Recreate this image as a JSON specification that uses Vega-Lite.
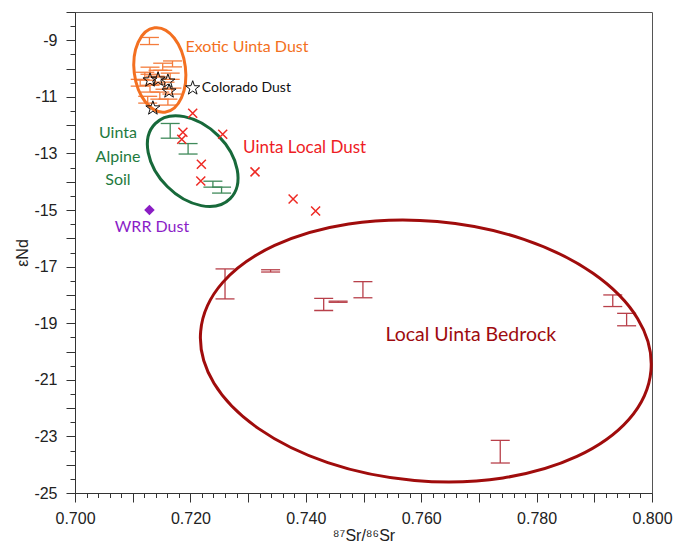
{
  "$schema": "https://vega.github.io/schema/vega-lite/v6.json",
  "width": 577,
  "height": 481,
  "autosize": {"type": "none"},
  "padding": {"left": 75, "top": 12, "right": 21, "bottom": 52},
  "background": "white",
  "config": {
    "view": {"stroke": "#555555", "strokeWidth": 1},
    "axis": {
      "grid": false,
      "domainColor": "#333333",
      "tickColor": "#333333",
      "labelFont": "Liberation Sans",
      "labelFontSize": 16,
      "labelColor": "#222222",
      "titleFont": "Liberation Sans",
      "titleFontSize": 16,
      "titleFontWeight": "normal",
      "titleColor": "#222222"
    }
  },
  "datasets": {
    "bars": [
      {"g": "exotic", "x": 0.7129, "y": -8.90, "y2": -9.15},
      {"g": "exotic", "x": 0.7169, "y": -9.73, "y2": -9.94},
      {"g": "exotic", "x": 0.7152, "y": -9.81, "y2": -10.06},
      {"g": "exotic", "x": 0.7130, "y": -9.95, "y2": -10.20},
      {"g": "exotic", "x": 0.7144, "y": -10.06, "y2": -10.30},
      {"g": "exotic", "x": 0.7121, "y": -10.13, "y2": -10.41},
      {"g": "exotic", "x": 0.7165, "y": -10.16, "y2": -10.38},
      {"g": "exotic", "x": 0.7139, "y": -10.27, "y2": -10.55},
      {"g": "exotic", "x": 0.7113, "y": -10.38, "y2": -10.62},
      {"g": "exotic", "x": 0.7156, "y": -10.48, "y2": -10.73},
      {"g": "exotic", "x": 0.7130, "y": -10.59, "y2": -10.83},
      {"g": "exotic", "x": 0.7168, "y": -10.69, "y2": -10.90},
      {"g": "exotic", "x": 0.7147, "y": -10.83, "y2": -11.08},
      {"g": "exotic", "x": 0.7126, "y": -10.98, "y2": -11.22},
      {"g": "exotic", "x": 0.7161, "y": -11.08, "y2": -11.29},
      {"g": "soil", "x": 0.7165, "y": -11.94, "y2": -12.46},
      {"g": "soil", "x": 0.7196, "y": -12.65, "y2": -13.02},
      {"g": "soil", "x": 0.7239, "y": -13.98, "y2": -14.19},
      {"g": "soil", "x": 0.7254, "y": -14.19, "y2": -14.40},
      {"g": "bedrock", "x": 0.7260, "y": -17.08, "y2": -18.14},
      {"g": "bedrock", "x": 0.7339, "y": -17.11, "y2": -17.19},
      {"g": "bedrock", "x": 0.7431, "y": -18.12, "y2": -18.55},
      {"g": "bedrock", "x": 0.7456, "y": -18.22, "y2": -18.26},
      {"g": "bedrock", "x": 0.7499, "y": -17.53, "y2": -18.10},
      {"g": "bedrock", "x": 0.7932, "y": -18.00, "y2": -18.41},
      {"g": "bedrock", "x": 0.7956, "y": -18.65, "y2": -19.09},
      {"g": "bedrock", "x": 0.7737, "y": -23.14, "y2": -23.94}
    ],
    "pts": [
      {"g": "local", "x": 0.7204, "y": -11.58},
      {"g": "local", "x": 0.7187, "y": -12.25},
      {"g": "local", "x": 0.7185, "y": -12.50},
      {"g": "local", "x": 0.7256, "y": -12.32},
      {"g": "local", "x": 0.7219, "y": -13.38},
      {"g": "local", "x": 0.7218, "y": -13.97},
      {"g": "local", "x": 0.7312, "y": -13.65},
      {"g": "local", "x": 0.7378, "y": -14.61},
      {"g": "local", "x": 0.7417, "y": -15.03},
      {"g": "colorado", "x": 0.7130, "y": -10.41},
      {"g": "colorado", "x": 0.7144, "y": -10.38},
      {"g": "colorado", "x": 0.7161, "y": -10.45},
      {"g": "colorado", "x": 0.7163, "y": -10.80},
      {"g": "colorado", "x": 0.7135, "y": -11.40},
      {"g": "colorado", "x": 0.7204, "y": -10.69},
      {"g": "wrr", "x": 0.7129, "y": -15.0}
    ],
    "ell": [
      {"g": "exotic", "x": 0.7147, "y": -10.05},
      {"g": "soil", "x": 0.7204, "y": -13.27},
      {"g": "bedrock", "x": 0.7608, "y": -19.98}
    ],
    "labels": [
      {"g": "t_exotic", "text": "Exotic Uinta Dust", "x": 0.7298, "y": -9.25},
      {"g": "t_colorado", "text": "Colorado Dust", "x": 0.7297, "y": -10.69},
      {"g": "t_soil", "text": "Uinta", "x": 0.70745, "y": -12.28},
      {"g": "t_soil", "text": "Alpine", "x": 0.70745, "y": -13.12},
      {"g": "t_soil", "text": "Soil", "x": 0.70745, "y": -13.92},
      {"g": "t_local", "text": "Uinta Local Dust", "x": 0.7398, "y": -12.81},
      {"g": "t_wrr", "text": "WRR Dust", "x": 0.71334, "y": -15.61},
      {"g": "t_bedrock", "text": "Local Uinta Bedrock", "x": 0.7686, "y": -19.41}
    ]
  },
  "encoding": {
    "x": {
      "field": "x",
      "type": "quantitative",
      "scale": {"domain": [0.7, 0.8], "nice": false, "zero": false},
      "axis": {
        "title": "⁸⁷Sr/⁸⁶Sr",
        "titlePadding": 1,
        "values": [0.700,0.702,0.704,0.706,0.708,0.710,0.712,0.714,0.716,0.718,0.720,0.722,0.724,0.726,0.728,0.730,0.732,0.734,0.736,0.738,0.740,0.742,0.744,0.746,0.748,0.750,0.752,0.754,0.756,0.758,0.760,0.762,0.764,0.766,0.768,0.770,0.772,0.774,0.776,0.778,0.780,0.782,0.784,0.786,0.788,0.790,0.792,0.794,0.796,0.798,0.800],
        "labelExpr": "round(datum.value*1000) % 20 == 0 ? format(datum.value, '.3f') : ''",
        "tickSize": {"condition": {"test": "round(datum.value*1000) % 10 == 0", "value": 9}, "value": 4.5},
        "labelPadding": 8,
        "labelOverlap": false,
        "labelFlush": false
      }
    },
    "y": {
      "field": "y",
      "type": "quantitative",
      "scale": {"domain": [-25, -8], "nice": false, "zero": false},
      "axis": {
        "title": "εNd",
        "titlePadding": 3,
        "values": [-8,-8.5,-9,-9.5,-10,-10.5,-11,-11.5,-12,-12.5,-13,-13.5,-14,-14.5,-15,-15.5,-16,-16.5,-17,-17.5,-18,-18.5,-19,-19.5,-20,-20.5,-21,-21.5,-22,-22.5,-23,-23.5,-24,-24.5,-25],
        "labelExpr": "abs(round(datum.value*2)) % 4 == 2 ? '-' + format(abs(datum.value), 'd') : ''",
        "tickSize": {"condition": {"test": "round(datum.value*2) % 2 == 0", "value": 9}, "value": 5},
        "labelPadding": 9,
        "labelOverlap": false,
        "labelFlush": false
      }
    }
  },
  "layer": [
    {
      "data": {"name": "bars"},
      "mark": {"type": "rule", "strokeWidth": 1.3},
      "encoding": {
        "y2": {"field": "y2"},
        "color": {
          "field": "g",
          "type": "nominal",
          "legend": null,
          "scale": {"domain": ["exotic", "soil", "bedrock", "t_exotic", "t_colorado", "t_soil", "t_local", "t_wrr", "t_bedrock"],
                    "range": ["#F47C3C", "#3F8A5A", "#B8404A", "#F37021", "#111111", "#1E7A3E", "#EE1C25", "#8B1EC7", "#9E0B0F"]}
        }
      }
    },
    {
      "data": {"name": "bars"},
      "mark": {"type": "tick", "orient": "horizontal", "size": 19, "thickness": 1.3, "opacity": 1},
      "encoding": {"color": {"field": "g", "type": "nominal", "legend": null}}
    },
    {
      "data": {"name": "bars"},
      "mark": {"type": "tick", "orient": "horizontal", "size": 19, "thickness": 1.3, "opacity": 1},
      "encoding": {
        "y": {"field": "y2", "type": "quantitative"},
        "color": {"field": "g", "type": "nominal", "legend": null}
      }
    },
    {
      "data": {"name": "ell"},
      "transform": [{"filter": "datum.g == 'exotic'"}],
      "mark": {
        "type": "point",
        "shape": "M -1 0 C -1 -0.334 -0.552 -0.605 0 -0.605 C 0.552 -0.605 1 -0.334 1 0 C 1 0.334 0.552 0.605 0 0.605 C -0.552 0.605 -1 0.334 -1 0 Z",
        "size": 7225,
        "angle": 83,
        "filled": false,
        "stroke": "#F37021",
        "strokeWidth": 3,
        "opacity": 1
      }
    },
    {
      "data": {"name": "ell"},
      "transform": [{"filter": "datum.g == 'soil'"}],
      "mark": {
        "type": "point",
        "shape": "M -1 0 C -1 -0.375 -0.552 -0.679 0 -0.679 C 0.552 -0.679 1 -0.375 1 0 C 1 0.375 0.552 0.679 0 0.679 C -0.552 0.679 -1 0.375 -1 0 Z",
        "size": 11236,
        "angle": 45,
        "filled": false,
        "stroke": "#17693A",
        "strokeWidth": 3,
        "opacity": 1
      }
    },
    {
      "data": {"name": "ell"},
      "transform": [{"filter": "datum.g == 'bedrock'"}],
      "mark": {
        "type": "point",
        "shape": "M -1 0 C -1 -0.318 -0.552 -0.575 0 -0.575 C 0.552 -0.575 1 -0.318 1 0 C 1 0.318 0.552 0.575 0 0.575 C -0.552 0.575 -1 0.318 -1 0 Z",
        "size": 204304,
        "angle": 5,
        "filled": false,
        "stroke": "#A00C0C",
        "strokeWidth": 3,
        "opacity": 1
      }
    },
    {
      "data": {"name": "pts"},
      "transform": [{"filter": "datum.g == 'local'"}],
      "mark": {
        "type": "point",
        "shape": "M -1 -1 L 1 1 M 1 -1 L -1 1",
        "size": 81,
        "filled": false,
        "stroke": "#EE2A24",
        "strokeWidth": 1.5,
        "opacity": 1
      }
    },
    {
      "data": {"name": "pts"},
      "transform": [{"filter": "datum.g == 'colorado'"}],
      "mark": {
        "type": "point",
        "shape": "M 0 -1 L 0.235 -0.324 L 0.951 -0.309 L 0.380 0.124 L 0.588 0.809 L 0 0.4 L -0.588 0.809 L -0.380 0.124 L -0.951 -0.309 L -0.235 -0.324 Z",
        "size": 220,
        "filled": false,
        "stroke": "#111111",
        "strokeWidth": 1,
        "opacity": 1
      }
    },
    {
      "data": {"name": "pts"},
      "transform": [{"filter": "datum.g == 'wrr'"}],
      "mark": {"type": "point", "shape": "diamond", "size": 110, "filled": true, "fill": "#8A1DC4", "opacity": 1}
    },
    {
      "data": {"name": "labels"},
      "mark": {"type": "text", "font": "Lato", "align": "center", "baseline": "middle"},
      "encoding": {
        "text": {"field": "text"},
        "color": {"field": "g", "type": "nominal", "legend": null},
        "size": {
          "field": "g",
          "type": "nominal",
          "legend": null,
          "scale": {"type": "ordinal", "domain": ["t_exotic", "t_colorado", "t_soil", "t_local", "t_wrr", "t_bedrock"], "range": [16, 14, 16, 17, 16, 19.5]}
        }
      }
    }
  ]
}
